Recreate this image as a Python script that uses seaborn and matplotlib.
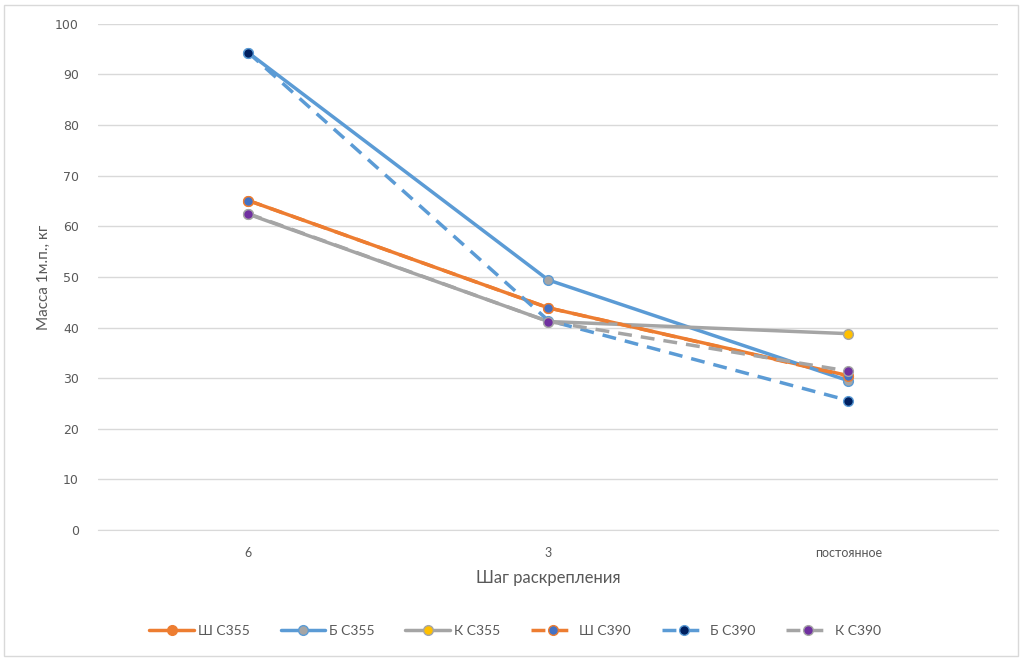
import pandas as pd
import matplotlib.pyplot as plt
from matplotlib.patches import Rectangle
import seaborn as sns

# шаг раскрепления
steps = ["6", "3", "постоянное"]

sh_c355 = [65.1, 43.9, 30.5]
b_c355 = [94.3, 49.4, 29.5]
k_c355 = [62.4, 41.2, 38.8]
sh_c390 = [65.1, 43.9, 30.4]
b_c390 = [94.3, 41.4, 25.6]
k_c390 = [62.5, 41.2, 31.4]

series_names = ["Ш С355", "Б С355", "К С355", "Ш С390", "Б С390", "К С390"]
series_vals = [sh_c355, b_c355, k_c355, sh_c390, b_c390, k_c390]

# line color, marker fill, marker edge, dashed?
styles = [
    ("#ED7D31", "#ED7D31", "#ED7D31", False),
    ("#5B9BD5", "#A5A5A5", "#5B9BD5", False),
    ("#A5A5A5", "#FFC000", "#A5A5A5", False),
    ("#ED7D31", "#4472C4", "#ED7D31", True),
    ("#5B9BD5", "#002060", "#5B9BD5", True),
    ("#A5A5A5", "#7030A0", "#A5A5A5", True),
]

sns.set_style("white")
plt.rcParams["font.family"] = ["Lato", "DejaVu Sans"]

fig = plt.figure(figsize=(10.24, 6.61), dpi=100)
ax = fig.add_axes([0.096, 0.198, 0.879, 0.766])

for name, vals, (lc, mfc, mec, dashed) in zip(series_names, series_vals, styles):
    df = pd.DataFrame({"step": steps, "mass": vals})
    kw = dict(linestyle=(0, (4, 2.6))) if dashed else dict(linestyle="-")
    sns.lineplot(
        data=df, x="step", y="mass", sort=False, ax=ax, color=lc, linewidth=2.5,
        marker="o", markersize=7, markerfacecolor=mfc, markeredgecolor=mec,
        markeredgewidth=1.0, label=name, **kw,
    )

ax.set_xlim(-0.5, 2.5)
ax.set_ylim(0, 100)
ax.set_yticks(range(0, 101, 10))
ax.yaxis.grid(True, color="#D9D9D9", linewidth=1)
ax.set_axisbelow(True)
for s in ["top", "right", "left"]:
    ax.spines[s].set_visible(False)
ax.spines["bottom"].set_color("#D9D9D9")
ax.tick_params(axis="both", length=0, colors="#595959")
for t in ax.get_yticklabels():
    t.set_fontfamily("DejaVu Sans")
    t.set_fontsize(9)
for t in ax.get_xticklabels():
    t.set_fontsize(9)
ax.tick_params(axis="y", pad=14)
ax.tick_params(axis="x", pad=12)

ax.set_xlabel("Шаг раскрепления", fontsize=12, color="#595959", labelpad=8)
ax.set_ylabel("Масса 1м.п., кг", fontsize=11, color="#595959", labelpad=3)

ax.legend(
    loc="center", bbox_to_anchor=(0.503, 0.045), bbox_transform=fig.transFigure,
    ncol=6, frameon=False, fontsize=10, labelcolor="#595959",
    handlelength=3.2, columnspacing=2.2, handletextpad=0.3,
)

# рамка вокруг диаграммы
fig.patches.append(Rectangle((0.004, 0.008), 0.99, 0.985, transform=fig.transFigure,
                             fill=False, edgecolor="#D9D9D9", linewidth=1))

fig.savefig("out.png", dpi=100)
